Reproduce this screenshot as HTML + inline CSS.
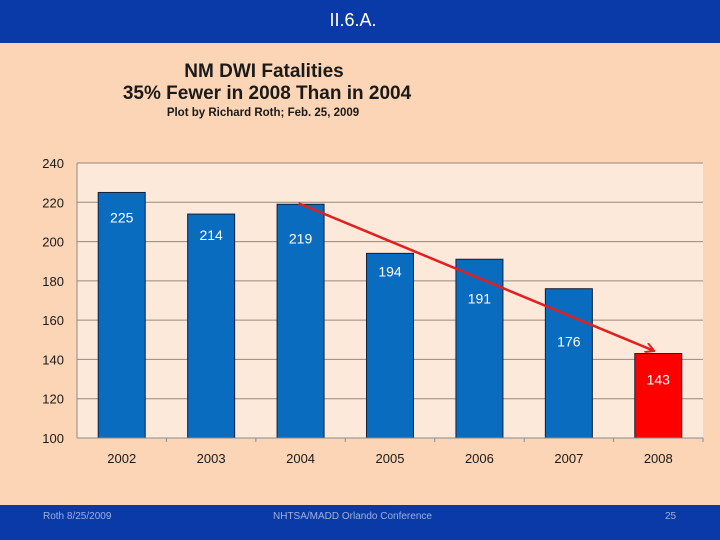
<!DOCTYPE html>
<html><head><meta charset="utf-8"><style>
html,body{margin:0;padding:0;width:720px;height:540px;overflow:hidden;background:#fbd5b5;font-family:"Liberation Sans",sans-serif}
</style></head><body>
<svg width="720" height="540" xmlns="http://www.w3.org/2000/svg">
<rect x="0" y="0" width="720" height="540" fill="#fbd5b5"/>
<rect x="0" y="0" width="720" height="43" fill="#0a3aa8"/>
<text x="353" y="26" font-size="18" fill="#fff" text-anchor="middle">II.6.A.</text>
<rect x="0" y="505" width="720" height="35" fill="#0a3aa8"/>
<text x="43" y="519" font-size="10" fill="#9fb0e0">Roth 8/25/2009</text>
<text x="273" y="519" font-size="10" fill="#9fb0e0">NHTSA/MADD Orlando Conference</text>
<text x="665" y="519" font-size="10" fill="#9fb0e0">25</text>
<text x="264" y="77" font-size="19" font-weight="bold" fill="#1a1a1a" text-anchor="middle">NM DWI Fatalities</text>
<text x="267" y="99" font-size="19" font-weight="bold" fill="#1a1a1a" text-anchor="middle">35% Fewer in 2008 Than in 2004</text>
<text x="263" y="116" font-size="11.5" font-weight="bold" fill="#1a1a1a" text-anchor="middle">Plot by Richard Roth;  Feb. 25, 2009</text>
<rect x="77" y="163" width="626" height="275" fill="#fde9da"/>
<g id="grid"></g><g id="bars"></g><g id="labels"></g>
<line x1="77" y1="438" x2="703" y2="438" stroke="#8a8a8a"/>
<line x1="77" y1="163" x2="77" y2="438" stroke="#8a8a8a"/>
<defs><marker id="ah" markerWidth="10" markerHeight="10" refX="8" refY="5" orient="auto" markerUnits="userSpaceOnUse"><path d="M0,0 L9,5 L0,10" fill="none" stroke="#e02020" stroke-width="2"/></marker></defs>
<line id="trend" stroke="#e02020" stroke-width="2.5" marker-end="url(#ah)"/>
</svg>
<script>
const categories=["2002","2003","2004","2005","2006","2007","2008"];
const values=[225,214,219,194,191,176,143];
const yTicks=[100,120,140,160,180,200,220,240];
const NS="http://www.w3.org/2000/svg";
const x0=77,x1=703,yTop=163,yBot=438,yMin=100,yMax=240;
const band=(x1-x0)/categories.length;
function y(v){return yBot-(v-yMin)/(yMax-yMin)*(yBot-yTop);}
function xc(i){return x0+band*(i+0.5);}
function mk(t,a,p){const e=document.createElementNS(NS,t);for(const k in a)e.setAttribute(k,a[k]);document.getElementById(p).appendChild(e);return e;}
yTicks.forEach(t=>{
  if(t>yMin){const l=mk("line",{x1:x0,x2:x1,y1:y(t),y2:y(t),stroke:"#9a8878","stroke-width":1},"grid");
  
  }
  const tx=mk("text",{x:64,y:y(t)+5,"font-size":13,"text-anchor":"end",fill:"#1a1a1a"},"labels");
  tx.textContent=t;
  
  
});
const labelOffsets=[30,26,39,23,44,58,31];
categories.forEach((c,i)=>{
  const bw=47,v=values[i],last=i===categories.length-1;
  const r=mk("rect",{x:xc(i)-bw/2,y:y(v),width:bw,height:yBot-y(v),fill:last?"#ff0000":"#0a6cbf",stroke:"#10203a","stroke-width":1},"bars");
  
  
  const tk=mk("line",{x1:x0+band*(i+1),x2:x0+band*(i+1),y1:yBot,y2:yBot+4,stroke:"#8a8a8a"},"grid");
  
  
  const xl=mk("text",{x:xc(i),y:463,"font-size":13,"text-anchor":"middle",fill:"#1a1a1a"},"labels");
  xl.textContent=c;
  
  
  const vl=mk("text",{x:xc(i),y:y(v)+labelOffsets[i],"font-size":14,"text-anchor":"middle",fill:"#fff"},"labels");
  vl.textContent=v;
  
  
});
const a=document.getElementById("trend");
a.setAttribute("x1",xc(2)-2);a.setAttribute("y1",y(values[2])-1);
a.setAttribute("x2",xc(6)-5);a.setAttribute("y2",y(values[6])-3);
</script>
</body></html>
